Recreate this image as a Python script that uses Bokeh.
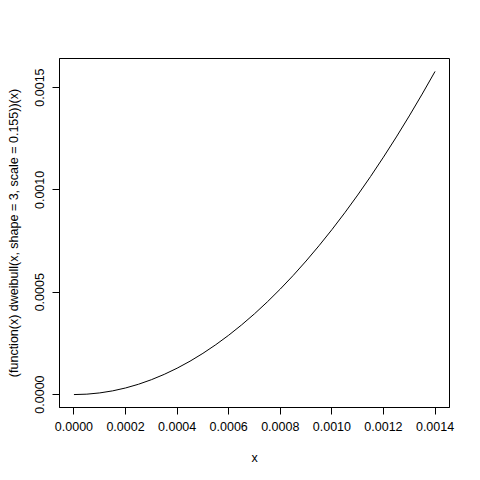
from bokeh.plotting import figure
from bokeh.models import Range1d, FixedTicker, PrintfTickFormatter
from bokeh.embed import file_html
from bokeh.resources import INLINE

# curve values
x_vals = [0.0, 0.00005, 0.0001, 0.00015, 0.0002, 0.00025, 0.0003, 0.00035, 0.0004,
          0.00045, 0.0005, 0.00055, 0.0006, 0.00065, 0.0007, 0.00075, 0.0008,
          0.00085, 0.0009, 0.00095, 0.001, 0.00105, 0.0011, 0.00115, 0.0012,
          0.00125, 0.0013, 0.00135, 0.0014]
y_vals = [0.0, 0.0000020, 0.0000081, 0.0000181, 0.0000322, 0.0000503, 0.0000725,
          0.0000987, 0.0001289, 0.0001631, 0.0002014, 0.0002437, 0.0002900,
          0.0003404, 0.0003947, 0.0004531, 0.0005156, 0.0005820, 0.0006525,
          0.0007270, 0.0008056, 0.0008881, 0.0009747, 0.0010653, 0.0011600,
          0.0012586, 0.0013613, 0.0014680, 0.0015787]
x_ticks = [0.0, 0.0002, 0.0004, 0.0006, 0.0008, 0.0010, 0.0012, 0.0014]
y_ticks = [0.0, 0.0005, 0.0010, 0.0015]

x_pad = 0.04 * (max(x_vals) - min(x_vals))
y_pad = 0.04 * (max(y_vals) - min(y_vals))

p = figure(width=480, height=480, output_backend="svg", toolbar_location=None,
           x_range=Range1d(min(x_vals) - x_pad, max(x_vals) + x_pad),
           y_range=Range1d(min(y_vals) - y_pad, max(y_vals) + y_pad),
           min_border_left=59, min_border_right=31, min_border_top=58, min_border_bottom=73)
p.grid.visible = False
p.outline_line_color = "black"
p.outline_line_width = 1
p.background_fill_color = "white"
p.border_fill_color = "white"

p.line(x_vals, y_vals, line_color="black", line_width=1)

font = "Liberation Sans"
for ax in (p.xaxis[0], p.yaxis[0]):
    ax.major_label_text_font = font
    ax.major_label_text_font_size = "12.5px"
    ax.major_label_text_color = "black"
    ax.axis_label_text_font = font
    ax.axis_label_text_font_size = "12.5px"
    ax.axis_label_text_font_style = "normal"
    ax.axis_label_text_color = "black"
    ax.major_tick_out = 7
    ax.major_tick_in = 0
    ax.minor_tick_line_color = None
    ax.major_tick_line_color = "black"
    ax.axis_line_color = "black"
    ax.formatter = PrintfTickFormatter(format="%.4f")

p.xaxis[0].ticker = FixedTicker(ticks=x_ticks)
p.yaxis[0].ticker = FixedTicker(ticks=y_ticks)
p.xaxis[0].axis_label = "x"
p.yaxis[0].axis_label = "(function(x) dweibull(x, shape = 3, scale = 0.155))(x)"
p.yaxis[0].major_label_orientation = "vertical"
p.xaxis[0].major_label_standoff = 7
p.yaxis[0].major_label_standoff = 8
p.xaxis[0].axis_label_standoff = 17
p.yaxis[0].axis_label_standoff = 12

open("out.html", "w").write(file_html(p, INLINE))
